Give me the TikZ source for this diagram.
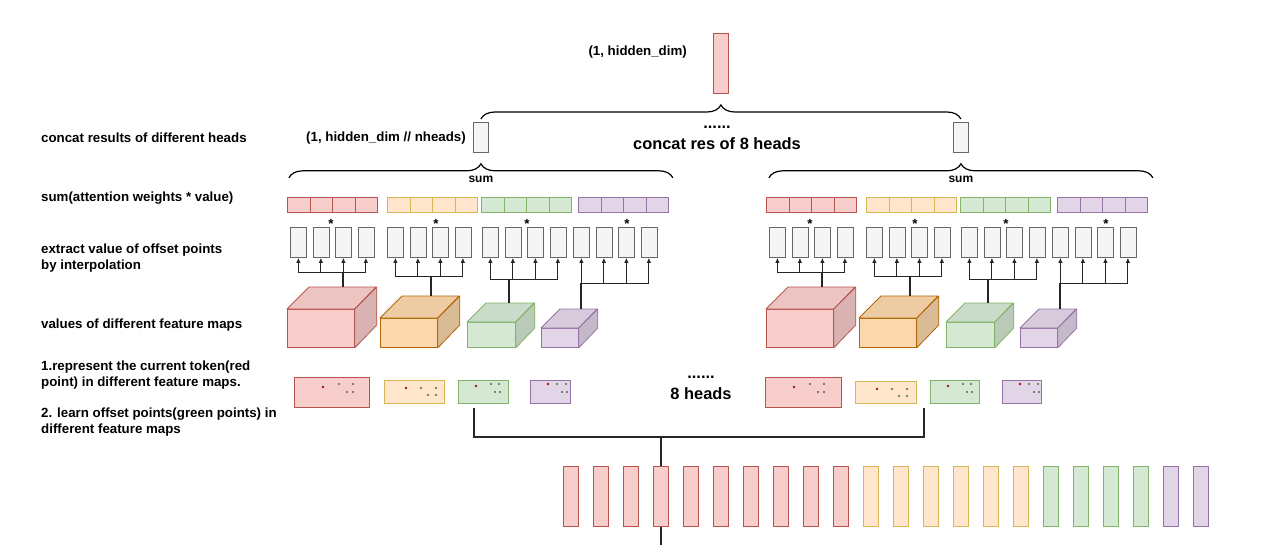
\documentclass[tikz,border=0pt]{standalone}
\usepackage{fontspec}
\setmainfont{Liberation Sans}
\usetikzlibrary{positioning, arrows.meta, decorations.pathreplacing}

\definecolor{redfill}{HTML}{F8CECC}\definecolor{redline}{HTML}{B85450}
\definecolor{yelfill}{HTML}{FFE6CC}\definecolor{yelline}{HTML}{D6B656}
\definecolor{orgfill}{HTML}{FAD7AC}\definecolor{orgline}{HTML}{B46504}
\definecolor{grnfill}{HTML}{D5E8D4}\definecolor{grnline}{HTML}{82B366}
\definecolor{purfill}{HTML}{E1D5E7}\definecolor{purline}{HTML}{9673A6}
\definecolor{gryfill}{HTML}{F5F5F5}\definecolor{gryline}{HTML}{666666}
\definecolor{dotred}{HTML}{A50F15}
\definecolor{dotgrn}{HTML}{4F6B34}

\begin{document}
\begin{tikzpicture}[x=1pt, y=-1pt,
  txt/.style={font=\bfseries\fontsize{13.3}{16}\selectfont, inner sep=0pt},
  lbl/.style={txt, anchor=west, align=left},
  big/.style={font=\bfseries\fontsize{16.4}{19}\selectfont, inner sep=0pt},
  sumtxt/.style={font=\bfseries\fontsize{12}{14}\selectfont, inner sep=0pt},
  box/.style={draw=#1line, fill=#1fill, line width=0.8pt, inner sep=0pt, anchor=north west},
  bar/.style={box=#1, minimum width=15pt, minimum height=60pt},
  head/.style={box=gry, minimum width=15pt, minimum height=30pt},
  cell/.style={box=#1, minimum width=22.5pt, minimum height=15pt},
  vbox/.style={box=gry, minimum width=16pt, minimum height=30pt},
  topface/.style={draw=#1line, fill=#1fill!95!black, line width=0.8pt, line join=round},
  sideface/.style={draw=#1line, fill=#1fill!87!black, line width=0.8pt, line join=round},
  conn/.style={draw=black!85, line width=1.4pt},
  tree/.style={draw=black!85, line width=1pt},
  arr/.style={tree, -{Latex[length=5pt,width=4.5pt]}},
  brace/.style={draw=black, line width=1.2pt, decorate, decoration={brace, amplitude=14pt}},
]
\fill[white] (0,0) rectangle (1277,544);
\useasboundingbox (0,0) rectangle (1277,544);

% row labels
\node[lbl] (t1) at (41,138) {concat results of different heads};
\node[lbl] (t2) at (41,198) {sum(attention weights * value)};
\node[lbl] (t3) at (41,258) {extract value of offset points\\by interpolation};
\node[lbl] (t4) at (41,325) {values of different feature maps};
\node[lbl] (t5) at (41,375) {1.represent the current token(red\\point) in different feature maps.};
\node[lbl] (t6) at (41,422) {2. learn offset points(green points) in\\different feature maps};

% output and heads
\node[bar=red] (top) at (713,33) {};
\node[txt, anchor=east] (toptxt) at (687,52) {(1, hidden\_dim)};
\node[head] (gL) at (473,122) {};
\node[head] (gR) at (953,122) {};
\node[txt, anchor=east] (headtxt) at (466,138) {(1, hidden\_dim // nheads)};
\node[big] (dots1) at (717,127) {......};
\node[big] (concattxt) at (717,144) {concat res of 8 heads};
\draw[brace] ([yshift=3pt]gL.north) -- ([yshift=3pt]gR.north);

\foreach \g in {L,R} {
  \draw[brace] ([shift={(-192pt,-25pt)}]g\g.south) -- ([shift={(192pt,-25pt)}]g\g.south);
  \node[sumtxt] (sum\g) at ([yshift=-27pt]g\g.south) {sum};
}

\foreach \side/\hx in {L/0, R/479} {
  \foreach \g/\col/\cub/\wx/\vx/\sx/\hy/\st/\cx/\cy/\cw/\ch/\cd in {
      1/red/red/287/290/331/272/343/287/309/67/38/22,
      2/yel/org/387/387/436/276/431/380/318/57/29/22,
      3/grn/grn/481/482/527/279/509/467/322/48/25/19,
      4/pur/pur/578/573/627/283/581/541/328/37/19/19} {
    % weights and sampled values
    \foreach \i in {1,...,4} {
      \node[cell=\col] (w\side\g\i) at ({\hx+\wx+(\i-1)*22.5}, 197) {};
      \node[vbox] (v\side\g\i) at ({\hx+\vx+(\i-1)*22.5}, 227) {};
    }
    \node[txt] (star\side\g) at (\hx+\sx, 224) {*};
    % feature map cube
    \node[box=\cub, minimum width=\cw pt, minimum height=\ch pt] (c\side\g) at (\hx+\cx, \cy) {};
    \filldraw[topface=\cub] (c\side\g.north west) -- ++(\cd,-\cd) -- ++(\cw,0) -- (c\side\g.north east) -- cycle;
    \filldraw[sideface=\cub] (c\side\g.north east) -- ++(\cd,-\cd) -- ++(0,\ch) -- (c\side\g.south east) -- cycle;
    \coordinate (k\side\g) at ([shift={(\cd,-\cd)}]c\side\g.north west);
    % interpolation arrows
    \coordinate (j\side\g) at (\hx+\st, \hy);
    \draw[tree] (j\side\g -| v\side\g1) -- (j\side\g -| v\side\g4);
    \foreach \i in {1,...,4}
      \draw[arr] (j\side\g -| v\side\g\i) -- (v\side\g\i.south);
    \draw[conn] (j\side\g) -- (j\side\g |- k\side\g);
  }
}

% sampling maps
\foreach \side/\g/\col/\mx/\my/\mw/\mh in {
    L/1/red/294/377/75/30, L/2/yel/384/380/60/23, L/3/grn/458/380/50/23, L/4/pur/530/380/40/23,
    R/1/red/765/377/76/30, R/2/yel/855/381/61/22, R/3/grn/930/380/49/23, R/4/pur/1002/380/39/23}
  \node[box=\col, minimum width=\mw pt, minimum height=\mh pt] (m\side\g) at (\mx,\my) {};

\foreach \side in {L,R} {
  \foreach \g/\rx/\ry/\pts in {1/29/10/{45/7,59/7,53/15,59/15}, 2/22/8/{37/8,52/8,44/15,52/15},
      3/18/6/{33/4,41/4,37/12,42/12}, 4/18/4/{27/4,36/4,32/12,37/12}} {
    \fill[dotred] ([shift={(\rx,\ry)}]m\side\g.north west) circle (1.4pt);
    \foreach \px/\py in \pts
      \fill[dotgrn] ([shift={(\px,\py)}]m\side\g.north west) circle (1.1pt);
  }
}
\node[big] (dots2) at (701,377) {......};
\node[big] (headstxt) at (701,394) {8 heads};

% input tokens
\foreach \col [count=\i] in {red,red,red,red,red,red,red,red,red,red,yel,yel,yel,yel,yel,yel,grn,grn,grn,grn,pur,pur}
  \node[bar=\col] (b\i) at ({563+(\i-1)*30}, 466) {};

\coordinate (join) at (b4.north |- 0,437);
\draw[conn] ([shift={(16pt,-4pt)}]mL3.south west) |- (join);
\draw[conn] ([shift={(7pt,-4pt)}]mR2.south east) |- (join);
\draw[conn] (join) -- (b4.north);
\draw[conn] (b4.south) -- ++(0,20);
\end{tikzpicture}
\end{document}
